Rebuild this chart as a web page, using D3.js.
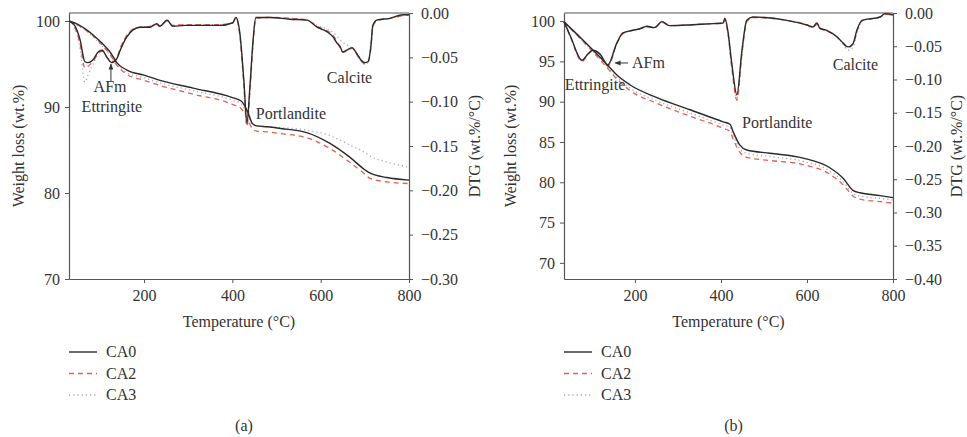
<!DOCTYPE html>
<html>
<head>
<meta charset="utf-8">
<script src="https://cdn.jsdelivr.net/npm/d3@7"></script>
<style>
  body { margin: 0; background: #fff; }
  text { font-family: "Liberation Serif", "Times New Roman", serif; fill: #333; }
</style>
</head>
<body>
<svg id="chart" width="967" height="437"></svg>
<script>
// ---- Panel (a): thermogravimetric (TG) curves ----
const tempA_TG = [30, 50, 84, 105, 123, 139, 161, 200, 236, 311, 400, 420, 435, 445, 455, 480, 510, 570, 620, 665, 700, 712, 750, 800];
const tgA_CA0 = [100, 99.6, 98.4, 97.4, 96.4, 95.1, 94.3, 93.7, 93.1, 92.2, 91.1, 90.7, 89.4, 88.1, 87.8, 87.7, 87.5, 87.0, 85.8, 84.2, 82.7, 82.3, 81.8, 81.5];
const tgA_CA2 = [100, 99.5, 98.3, 97.2, 96.1, 94.8, 93.8, 93.1, 92.5, 91.5, 90.3, 89.8, 88.5, 87.5, 87.2, 87.1, 86.9, 86.4, 85.2, 83.6, 82.2, 81.7, 81.3, 81.1];
const tgA_CA3 = [100, 99.5, 98.2, 97.1, 96.0, 94.9, 94.0, 93.4, 92.8, 91.9, 90.8, 90.4, 89.0, 88.0, 87.8, 87.7, 87.6, 87.3, 86.7, 85.6, 84.7, 84.3, 83.6, 83.0];

// ---- Panel (a): derivative (DTG) curves ----
const tempA_DTG = [30, 44, 55, 66, 73, 84, 96, 105, 116, 127, 139, 146, 161, 175, 191, 213, 229, 236, 252, 265, 293, 327, 372, 401, 408, 417, 426, 433, 440, 447, 453, 485, 530, 569, 592, 614, 628, 637, 644, 650, 659, 671, 682, 691, 700, 707, 714, 718, 727, 757, 786, 800];
const dtgA_CA0 = [-0.009, -0.015, -0.030, -0.055, -0.056, -0.053, -0.044, -0.042, -0.050, -0.056, -0.051, -0.042, -0.027, -0.019, -0.016, -0.016, -0.012, -0.015, -0.008, -0.015, -0.014, -0.014, -0.014, -0.011, -0.005, -0.023, -0.076, -0.124, -0.081, -0.030, -0.005, -0.005, -0.007, -0.008, -0.016, -0.021, -0.027, -0.034, -0.038, -0.044, -0.042, -0.039, -0.046, -0.053, -0.056, -0.055, -0.036, -0.014, -0.008, -0.006, -0.002, -0.002];
const dtgA_CA2 = [-0.009, -0.017, -0.035, -0.062, -0.060, -0.055, -0.046, -0.043, -0.050, -0.055, -0.050, -0.040, -0.025, -0.018, -0.016, -0.015, -0.013, -0.015, -0.009, -0.014, -0.013, -0.013, -0.013, -0.011, -0.006, -0.026, -0.082, -0.128, -0.086, -0.034, -0.006, -0.005, -0.006, -0.008, -0.015, -0.020, -0.025, -0.032, -0.040, -0.044, -0.043, -0.040, -0.047, -0.054, -0.057, -0.056, -0.038, -0.016, -0.009, -0.006, -0.003, -0.002];
const dtgA_CA3 = [-0.009, -0.018, -0.040, -0.078, -0.070, -0.058, -0.046, -0.043, -0.050, -0.056, -0.050, -0.040, -0.026, -0.018, -0.016, -0.015, -0.013, -0.014, -0.009, -0.014, -0.013, -0.013, -0.013, -0.011, -0.006, -0.025, -0.080, -0.126, -0.084, -0.032, -0.006, -0.005, -0.006, -0.008, -0.014, -0.018, -0.022, -0.026, -0.030, -0.033, -0.036, -0.040, -0.045, -0.052, -0.058, -0.056, -0.035, -0.015, -0.008, -0.006, -0.003, -0.002];

// ---- Panel (b): TG curves ----
const tempB_TG = [35, 79, 119, 137, 158, 188, 251, 328, 405, 421, 428, 444, 460, 514, 591, 653, 684, 707, 723, 770, 800];
const tgB_CA0 = [99.9, 97.65, 95.5, 94.5, 93.3, 92.1, 90.5, 89.0, 87.5, 87.2, 86.3, 84.6, 84.0, 83.6, 83.0, 81.8, 80.5, 79.0, 78.7, 78.35, 78.1];
const tgB_CA2 = [99.9, 97.5, 95.2, 94.1, 92.8, 91.4, 89.8, 88.2, 86.7, 86.3, 85.4, 83.7, 83.1, 82.7, 82.2, 81.0, 79.7, 78.3, 77.9, 77.6, 77.4];
const tgB_CA3 = [99.9, 97.5, 95.3, 94.2, 93.0, 91.7, 90.1, 88.6, 87.1, 86.8, 85.9, 84.1, 83.6, 83.2, 82.6, 81.4, 80.1, 78.6, 78.3, 78.0, 77.8];

// ---- Panel (b): DTG curves ----
const tempB_DTG = [35, 50, 77, 90, 102, 119, 137, 158, 172, 195, 210, 228, 245, 263, 280, 328, 380, 405, 409, 416, 425, 437, 449, 460, 474, 553, 600, 614, 623, 630, 646, 670, 684, 695, 707, 716, 728, 770, 781, 800];
const dtgB_CA0 = [-0.013, -0.035, -0.071, -0.062, -0.056, -0.062, -0.078, -0.045, -0.030, -0.026, -0.024, -0.020, -0.022, -0.013, -0.019, -0.018, -0.016, -0.015, -0.008, -0.027, -0.075, -0.123, -0.055, -0.011, -0.006, -0.011, -0.018, -0.021, -0.015, -0.023, -0.026, -0.036, -0.045, -0.051, -0.046, -0.026, -0.011, -0.006, -0.001, -0.003];
const dtgB_CA2 = [-0.013, -0.036, -0.073, -0.063, -0.056, -0.062, -0.080, -0.046, -0.031, -0.026, -0.024, -0.021, -0.022, -0.014, -0.019, -0.018, -0.016, -0.016, -0.010, -0.030, -0.082, -0.131, -0.060, -0.013, -0.007, -0.011, -0.018, -0.022, -0.017, -0.023, -0.027, -0.036, -0.046, -0.052, -0.047, -0.028, -0.012, -0.006, -0.002, -0.003];
const dtgB_CA3 = [-0.013, -0.036, -0.072, -0.062, -0.056, -0.062, -0.079, -0.046, -0.030, -0.026, -0.024, -0.021, -0.022, -0.014, -0.019, -0.018, -0.016, -0.015, -0.009, -0.028, -0.079, -0.128, -0.058, -0.012, -0.007, -0.011, -0.018, -0.021, -0.016, -0.022, -0.027, -0.036, -0.047, -0.056, -0.052, -0.030, -0.012, -0.006, -0.002, -0.003];

// ---- Axis ticks ----
const tempTicks = [200, 400, 600, 800];
const weightTicksA = [70, 80, 90, 100];
const weightTicksB = [70, 75, 80, 85, 90, 95, 100];
const dtgTicksA = [0, -0.05, -0.10, -0.15, -0.20, -0.25, -0.30];
const dtgTicksB = [0, -0.05, -0.10, -0.15, -0.20, -0.25, -0.30, -0.35, -0.40];

// ---- Series ----
const seriesNames = ["CA0", "CA2", "CA3"];
const seriesStyle = {
  CA0: { stroke: "#2a2a2a", width: 1.4, dash: null },
  CA2: { stroke: "#e8604f", width: 1.3, dash: "5,4" },
  CA3: { stroke: "#a9a2c4", width: 1.3, dash: "1.2,3" }
};

// ---- Peak labels: [text, temperature, weight, anchor] ----
const labelsA = [["AFm", 123, 91.7, "middle"], ["Ettringite", 127, 89.4, "middle"], ["Portlandite", 453, 88.6, "start"], ["Calcite", 614, 92.8, "start"]];
const labelsB = [["AFm", 193, 94.2, "start"], ["Ettringite", 37, 91.45, "start"], ["Portlandite", 449, 86.7, "start"], ["Calcite", 660, 93.9, "start"]];
// arrows: [fromT, fromW, toT, toW]
const arrowA = [125, 93.0, 125, 95.0];
const arrowB = [184, 94.8, 154, 94.8];

const panels = [
  { tag: "(a)", left: 69, right: 409, top: 13, bottom: 279, tDom: [30, 800], wDom: [70, 100.93], dDom: [-0.30, 0],
    wTicks: weightTicksA, dTicks: dtgTicksA, tgT: tempA_TG, tg: [tgA_CA0, tgA_CA2, tgA_CA3],
    dtgT: tempA_DTG, dtg: [dtgA_CA0, dtgA_CA2, dtgA_CA3], labels: labelsA, arrow: arrowA,
    wTitleX: 18, dTitleX: 474 },
  { tag: "(b)", left: 564, right: 893, top: 13, bottom: 279, tDom: [35, 800], wDom: [68, 101], dDom: [-0.40, 0],
    wTicks: weightTicksB, dTicks: dtgTicksB, tgT: tempB_TG, tg: [tgB_CA0, tgB_CA2, tgB_CA3],
    dtgT: tempB_DTG, dtg: [dtgB_CA0, dtgB_CA2, dtgB_CA3], labels: labelsB, arrow: arrowB,
    wTitleX: 510, dTitleX: 956 }
];

const svg = d3.select("#chart");
const defs = svg.append("defs");
defs.append("marker").attr("id", "arrowhead").attr("viewBox", "0 0 10 10")
  .attr("refX", 9).attr("refY", 5).attr("markerWidth", 7).attr("markerHeight", 6)
  .attr("orient", "auto").attr("markerUnits", "userSpaceOnUse")
  .append("path").attr("d", "M0,1 L10,5 L0,9 Z").attr("fill", "#333");

const FONT = 16;
const axisColor = "#555";

panels.forEach(p => {
  const g = svg.append("g");
  const x = d3.scaleLinear().domain(p.tDom).range([p.left, p.right]);
  const yW = d3.scaleLinear().domain(p.wDom).range([p.bottom, p.top]);
  const yD = d3.scaleLinear().domain(p.dDom).range([p.bottom, p.top]);

  // frame top line
  g.append("line").attr("x1", p.left).attr("x2", p.right).attr("y1", p.top).attr("y2", p.top)
    .attr("stroke", axisColor).attr("stroke-width", 1.2);

  const styleAxis = sel => {
    sel.select(".domain").attr("stroke", axisColor).attr("stroke-width", 1.2);
    sel.selectAll(".tick line").attr("stroke", axisColor);
    sel.selectAll(".tick text").attr("font-size", FONT).attr("fill", "#333")
      .attr("font-family", "Liberation Serif, Times New Roman, serif");
  };

  g.append("g").attr("transform", `translate(0,${p.bottom})`)
    .call(d3.axisBottom(x).tickValues(tempTicks).tickSize(4).tickSizeOuter(0).tickPadding(7).tickFormat(d3.format("d")))
    .call(styleAxis);
  g.append("g").attr("transform", `translate(${p.left},0)`)
    .call(d3.axisLeft(yW).tickValues(p.wTicks).tickSize(4).tickSizeOuter(0).tickPadding(5).tickFormat(d3.format("d")))
    .call(styleAxis);
  g.append("g").attr("transform", `translate(${p.right},0)`)
    .call(d3.axisRight(yD).tickValues(p.dTicks).tickSize(4).tickSizeOuter(0).tickPadding(8).tickFormat(d3.format(".2f")))
    .call(styleAxis);

  // curves: dotted first, then dashed, then solid on top
  const order = [2, 1, 0];
  order.forEach(i => {
    const st = seriesStyle[seriesNames[i]];
    const tgLine = d3.line().x((d, k) => x(p.tgT[k])).y(d => yW(d)).curve(d3.curveMonotoneX);
    const dtgLine = d3.line().x((d, k) => x(p.dtgT[k])).y(d => yD(d)).curve(d3.curveMonotoneX);
    [[tgLine, p.tg[i]], [dtgLine, p.dtg[i]]].forEach(([ln, vals]) => {
      g.append("path").datum(vals).attr("d", ln)
        .attr("fill", "none").attr("stroke", st.stroke).attr("stroke-width", st.width)
        .attr("stroke-dasharray", st.dash).attr("stroke-linejoin", "round");
    });
  });

  // peak labels
  p.labels.forEach(([t, T, W, anchor]) => {
    g.append("text").attr("x", x(T)).attr("y", yW(W)).attr("text-anchor", anchor)
      .attr("font-size", FONT).text(t);
  });
  const a = p.arrow;
  g.append("line").attr("x1", x(a[0])).attr("y1", yW(a[1])).attr("x2", x(a[2])).attr("y2", yW(a[3]))
    .attr("stroke", "#333").attr("stroke-width", 1).attr("marker-end", "url(#arrowhead)");

  // axis titles
  const midY = (p.top + p.bottom) / 2;
  g.append("text").attr("transform", `translate(${p.wTitleX},${midY}) rotate(-90)`)
    .attr("text-anchor", "middle").attr("dominant-baseline", "central").attr("font-size", FONT)
    .text("Weight loss (wt.%)");
  g.append("text").attr("transform", `translate(${p.dTitleX},${midY}) rotate(-90)`)
    .attr("text-anchor", "middle").attr("dominant-baseline", "central").attr("font-size", FONT)
    .text("DTG (wt.%/°C)");
  const midX = (p.left + p.right) / 2;
  g.append("text").attr("x", midX).attr("y", 327).attr("text-anchor", "middle").attr("font-size", FONT)
    .text("Temperature (°C)");

  // legend
  seriesNames.forEach((name, i) => {
    const st = seriesStyle[name];
    const ly = 352 + i * 21.5;
    g.append("line").attr("x1", p.left).attr("x2", p.left + 28).attr("y1", ly).attr("y2", ly)
      .attr("stroke", st.stroke).attr("stroke-width", st.width).attr("stroke-dasharray", st.dash);
    g.append("text").attr("x", p.left + 37).attr("y", ly + 5).attr("font-size", FONT).text(name);
  });

  g.append("text").attr("x", midX + 5).attr("y", 431).attr("text-anchor", "middle").attr("font-size", FONT)
    .text(p.tag);
});
</script>
</body>
</html>
